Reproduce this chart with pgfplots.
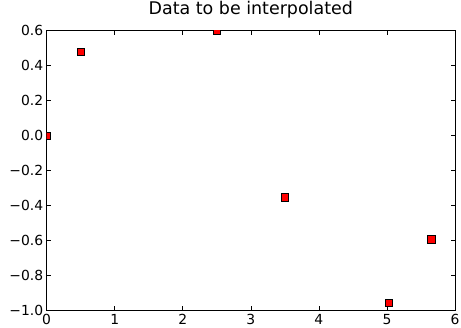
\documentclass[border=0pt]{standalone}
\usepackage{pgfplots}
\pgfplotsset{compat=1.18}
\usepackage{fontspec}
\setmainfont{DejaVu Sans}
\newcommand{\mi}{\symbol{"2212}}
\newcommand{\tl}[1]{\mbox{#1}}
\begin{document}
\begin{tikzpicture}
\begin{axis}[
  scale only axis,
  width=412pt, height=282pt,
  xmin=0, xmax=6, ymin=-1.0, ymax=0.6,
  xtick={0,1,2,3,4,5,6},
  xticklabels={\tl{0},\tl{1},\tl{2},\tl{3},\tl{4},\tl{5},\tl{6}},
  ytick={-1.0,-0.8,-0.6,-0.4,-0.2,0.0,0.2,0.4,0.6},
  yticklabels={\tl{\mi1.0},\tl{\mi0.8},\tl{\mi0.6},\tl{\mi0.4},\tl{\mi0.2},\tl{0.0},\tl{0.2},\tl{0.4},\tl{0.6}},
  tick align=inside,
  major tick length=4.5pt,
  tick style={black, line width=0.6pt},
  axis line style={line width=0.8pt},
  ticklabel style={font=\fontsize{14}{16}\selectfont},
  title={Data to be interpolated},
  title style={font=\fontsize{17.6}{20}\selectfont, anchor=base, at={(0.5,1)}, yshift=10pt},
  xticklabel style={yshift=-0.7pt},
  clip marker paths=true,
]
\addplot[only marks, mark=square*, mark size=3.6pt, mark options={fill=red, draw=black, line width=0.4pt}] coordinates {
(0,0) (0.5,0.48) (2.5,0.6) (3.5,-0.353) (5.03,-0.955) (5.65,-0.593)
};
\end{axis}
\pgfresetboundingbox
\path ([xshift=-47pt, yshift=-17pt]current axis.south west) rectangle ([xshift=6pt, yshift=31pt]current axis.north east);
\end{tikzpicture}
\end{document}
